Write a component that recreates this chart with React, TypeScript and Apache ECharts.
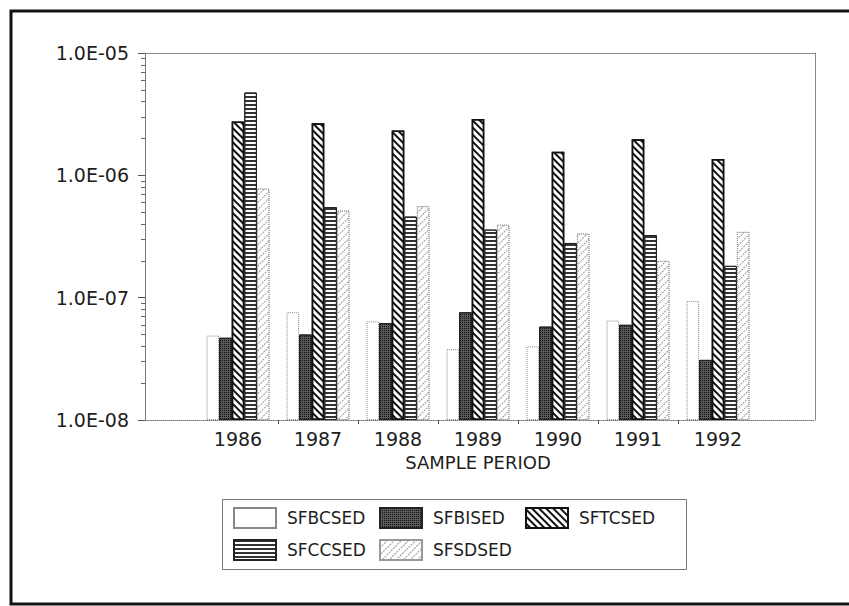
import React, { useEffect, useRef } from "react";
import * as echarts from "echarts";

const categories = ["1986", "1987", "1988", "1989", "1990", "1991", "1992"];
const seriesNames = ["SFBCSED", "SFBISED", "SFTCSED", "SFCCSED", "SFSDSED"];
const sfbcsed = [4.9e-8, 7.6e-8, 6.4e-8, 3.8e-8, 4.0e-8, 6.5e-8, 9.4e-8];
const sfbised = [4.7e-8, 5.0e-8, 6.2e-8, 7.6e-8, 5.8e-8, 6.0e-8, 3.1e-8];
const sftcsed = [2.75e-6, 2.67e-6, 2.32e-6, 2.89e-6, 1.56e-6, 1.97e-6, 1.36e-6];
const sfccsed = [4.75e-6, 5.5e-7, 4.6e-7, 3.6e-7, 2.8e-7, 3.25e-7, 1.82e-7];
const sfsdsed = [7.8e-7, 5.15e-7, 5.6e-7, 3.95e-7, 3.35e-7, 2.0e-7, 3.45e-7];
const yMin = 1e-8;
const yMax = 1e-5;
const xTitle = "SAMPLE PERIOD";

const seriesValues = [sfbcsed, sfbised, sftcsed, sfccsed, sfsdsed];

const FONT = "DejaVu Sans";
const TEXT = "#1e1e1e";

function fmtExp(v: number) {
  const e = Math.round(Math.log10(v));
  const m = v / Math.pow(10, e);
  const sign = e < 0 ? "-" : "+";
  return m.toFixed(1) + "E" + sign + String(Math.abs(e)).padStart(2, "0");
}

const itemStyles: any[] = [
  { color: "#ffffff", borderColor: "#888", borderWidth: 1, borderType: "dotted" },
  {
    color: "#5a5a5a",
    borderColor: "#222",
    borderWidth: 1,
    decal: { symbol: "rect", symbolSize: 1, dashArrayX: [1, 1], dashArrayY: [1, 1], color: "#111" },
  },
  {
    color: "#ffffff",
    borderColor: "#111",
    borderWidth: 1.5,
    decal: { symbol: "rect", symbolSize: 1, dashArrayX: [1, 0], dashArrayY: [2, 3], rotation: Math.PI / 4, color: "#111" },
  },
  {
    color: "#ffffff",
    borderColor: "#222",
    borderWidth: 1,
    decal: { symbol: "rect", symbolSize: 1, dashArrayX: [1, 0], dashArrayY: [1.2, 1.8], rotation: 0, color: "#333" },
  },
  {
    color: "#ffffff",
    borderColor: "#999",
    borderWidth: 1,
    borderType: "dotted",
    decal: { symbol: "rect", symbolSize: 1, dashArrayX: [2, 1], dashArrayY: [1, 4], rotation: -Math.PI / 4, color: "#999" },
  },
];

export default function App() {
  const ref = useRef<HTMLDivElement>(null);
  useEffect(() => {
    if (!ref.current) return;
    const chart = echarts.init(ref.current, null, { renderer: "svg" });
    // ECharts log bars grow from 1, so values are plotted in units of yMin
    const decades = Math.round(Math.log10(yMax / yMin));
    const minorVals: number[] = [];
    for (let d = 0; d < decades; d++) {
      for (let k = 2; k <= 9; k++) minorVals.push(d + Math.log10(k));
    }
    const firstCenter = 238;
    const bandPx = 80;
    const frameLeft = 145;
    const frameRight = 815;
    const legendCols = 3;
    const colPx = 146;
    const legendBase = {
      orient: "vertical",
      icon: "rect",
      top: 507,
      padding: 0,
      itemWidth: 42,
      itemHeight: 20,
      itemGap: 10,
      textStyle: { fontSize: 17, color: TEXT, fontFamily: FONT, padding: [0, 0, 0, 6] },
    };
    const legends = Array.from({ length: legendCols }, (_, c) => ({
      ...legendBase,
      left: 233 + c * colPx,
      data: seriesNames.filter((_, i) => i % legendCols === c),
    }));
    const option: any = {
      animation: false,
      backgroundColor: "#ffffff",
      textStyle: { fontFamily: FONT, color: TEXT },
      graphic: [
        {
          type: "rect",
          shape: { x: 11, y: 11, width: 850, height: 593 },
          style: { fill: "none", stroke: "#111", lineWidth: 3 },
          silent: true,
        },
        {
          type: "rect",
          shape: { x: 222.5, y: 499.5, width: 464, height: 70 },
          style: { fill: "none", stroke: "#777", lineWidth: 1 },
          silent: true,
        },
      ],
      grid: [
        { left: 198, top: 53, width: 560, height: 367 },
        { left: frameLeft, top: 53, width: frameRight - frameLeft, height: 367 },
      ],
      legend: legends,
      xAxis: [
        {
          type: "category",
          gridIndex: 0,
          data: categories,
          boundaryGap: true,
          axisLine: { show: false },
          axisTick: { show: false },
          axisLabel: { fontSize: 19, color: TEXT, margin: 9, fontFamily: FONT },
          name: xTitle,
          nameLocation: "middle",
          nameGap: 33,
          nameTextStyle: { fontSize: 18, color: TEXT, fontFamily: FONT },
        },
        {
          type: "value",
          gridIndex: 1,
          position: "bottom",
          min: -(firstCenter - frameLeft) / bandPx,
          max: (frameRight - firstCenter) / bandPx,
          splitLine: { show: false },
          axisLabel: { show: false },
          axisLine: { show: true, onZero: false, lineStyle: { color: "#777", type: "dotted", width: 1 } },
          axisTick: {
            show: true,
            length: 4,
            inside: false,
            customValues: categories.slice(1).map((_, i) => i + 0.5),
            lineStyle: { color: "#555" },
          },
        },
        {
          type: "value",
          gridIndex: 1,
          position: "top",
          min: 0,
          max: 1,
          splitLine: { show: false },
          axisLabel: { show: false },
          axisTick: { show: false },
          axisLine: { show: true, onZero: false, lineStyle: { color: "#888", width: 1 } },
        },
      ],
      yAxis: [
        {
          type: "log",
          gridIndex: 0,
          logBase: 10,
          min: 1,
          max: yMax / yMin,
          offset: 198 - frameLeft,
          splitLine: { show: false },
          axisLine: { show: true, onZero: false, lineStyle: { color: "#777", width: 1 } },
          axisTick: { show: true, length: 7, inside: false, lineStyle: { color: "#555" } },
          axisLabel: {
            fontSize: 19,
            color: TEXT,
            margin: 16,
            fontFamily: FONT,
            formatter: (v: number) => fmtExp(v * yMin),
          },
        },
        {
          type: "value",
          gridIndex: 1,
          min: 0,
          max: decades,
          position: "left",
          splitLine: { show: false },
          axisLabel: { show: false },
          axisLine: { show: false, onZero: false },
          axisTick: { show: true, length: 4, inside: false, customValues: minorVals, lineStyle: { color: "#666" } },
        },
        {
          type: "value",
          gridIndex: 1,
          position: "right",
          min: 0,
          max: 1,
          splitLine: { show: false },
          axisLabel: { show: false },
          axisTick: { show: false },
          axisLine: { show: true, onZero: false, lineStyle: { color: "#888", width: 1 } },
        },
      ],
      series: seriesNames.map((name, i) => ({
        name,
        type: "bar",
        xAxisIndex: 0,
        yAxisIndex: 0,
        data: seriesValues[i].map((v) => v / yMin),
        barWidth: 12.6,
        barGap: "0%",
        itemStyle: itemStyles[i],
      })),
    };
    chart.setOption(option);
    return () => chart.dispose();
  }, []);
  return (
    <div
      ref={ref}
      style={{ position: "absolute", left: 0, top: 0, width: 849, height: 606 }}
    />
  );
}
